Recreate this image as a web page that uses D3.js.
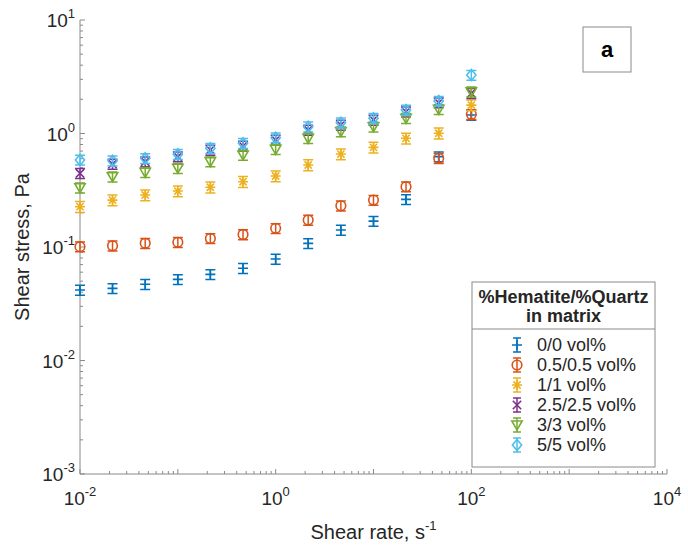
<!DOCTYPE html>
<html><head><meta charset="utf-8">
<script src="https://cdn.jsdelivr.net/npm/d3@7/dist/d3.min.js"></script>
<style>
body{margin:0;background:#fff}
text{font-family:"Liberation Sans",Arial,Helvetica,sans-serif}
</style>
</head><body>
<svg id="chart" width="688" height="548"></svg>
<script>
// ---- data ----
const shearRate = [0.01, 0.0215, 0.0464, 0.1, 0.215, 0.464, 1, 2.15, 4.64, 10, 21.5, 46.4, 100];
const seriesNames = ["0/0 vol%", "0.5/0.5 vol%", "1/1 vol%", "2.5/2.5 vol%", "3/3 vol%", "5/5 vol%"];
const stress_0_0   = [0.0418, 0.0432, 0.0469, 0.0519, 0.0574, 0.0649, 0.0783, 0.1077, 0.141, 0.169, 0.263, 0.625, 1.455];
const stress_05_05 = [0.1007, 0.1026, 0.1078, 0.110, 0.119, 0.129, 0.146, 0.173, 0.231, 0.259, 0.340, 0.605, 1.475];
const stress_1_1   = [0.2265, 0.259, 0.287, 0.311, 0.336, 0.376, 0.422, 0.528, 0.659, 0.755, 0.907, 1.005, 1.78];
const stress_25_25 = [0.446, 0.538, 0.565, 0.625, 0.716, 0.776, 0.877, 1.074, 1.189, 1.316, 1.556, 1.869, 2.26];
const stress_3_3   = [0.333, 0.416, 0.455, 0.494, 0.565, 0.647, 0.726, 0.907, 1.038, 1.148, 1.361, 1.633, 2.33];
const stress_5_5   = [0.585, 0.576, 0.604, 0.656, 0.741, 0.820, 0.919, 1.148, 1.245, 1.361, 1.61, 1.93, 3.27];
const relError     = [0.10, 0.10, 0.11, 0.10, 0.10, 0.10];   // relative error-bar half size per series
const colors  = ["#0072BD", "#D95319", "#EDB120", "#7E2F8E", "#77AC30", "#4DBEEE"];
const markers = ["plus", "circle", "asterisk", "times", "triangleDown", "diamond"];
const xTickValues = [1e-2, 1e0, 1e2, 1e4];
const xTickExp = ["-2", "0", "2", "4"];
const yTickValues = [1e-3, 1e-2, 1e-1, 1e0, 1e1];
const yTickExp = ["-3", "-2", "-1", "0", "1"];
const legendTitle = ["%Hematite/%Quartz", "in matrix"];
const panelLabel = "a";
const xLabel = "Shear rate, s";
const xLabelSup = "-1";
const yLabel = "Shear stress, Pa";

const seriesValues = [stress_0_0, stress_05_05, stress_1_1, stress_25_25, stress_3_3, stress_5_5];

// ---- layout ----
const L = 80, R = 667, T = 20, B = 474;
const axisColor = "#8a8a8a", textColor = "#262626";

const svg = d3.select("#chart");
const x = d3.scaleLog().domain([1e-2, 1e4]).range([L, R]);
const y = d3.scaleLog().domain([1e-3, 1e1]).range([B, T]);

// ---- marker drawing ----
function drawMarker(g, type, color) {
  const sw = 1.6;
  const p = d3.path();
  if (type === "plus") {
    p.moveTo(-5, 0); p.lineTo(5, 0); p.moveTo(0, -5); p.lineTo(0, 5);
  } else if (type === "circle") {
    g.append("circle").attr("r", 4.8).attr("stroke", color).attr("stroke-width", sw).attr("fill", "none");
    return;
  } else if (type === "asterisk") {
    p.moveTo(-5, 0); p.lineTo(5, 0); p.moveTo(0, -5); p.lineTo(0, 5);
    p.moveTo(-3.6, -3.6); p.lineTo(3.6, 3.6); p.moveTo(-3.6, 3.6); p.lineTo(3.6, -3.6);
  } else if (type === "times") {
    p.moveTo(-4.2, -4.2); p.lineTo(4.2, 4.2); p.moveTo(-4.2, 4.2); p.lineTo(4.2, -4.2);
  } else if (type === "triangleDown") {
    p.moveTo(-5.2, -4); p.lineTo(5.2, -4); p.lineTo(0, 5); p.closePath();
  } else if (type === "diamond") {
    p.moveTo(0, -5.5); p.lineTo(4.6, 0); p.lineTo(0, 5.5); p.lineTo(-4.6, 0); p.closePath();
  }
  g.append("path").attr("d", p.toString()).attr("stroke", color).attr("stroke-width", sw).attr("fill", "none");
}
function drawErrorBar(g, yTop, yBot, color, cap) {
  const p = d3.path();
  p.moveTo(0, yTop); p.lineTo(0, yBot);
  p.moveTo(-cap, yTop); p.lineTo(cap, yTop);
  p.moveTo(-cap, yBot); p.lineTo(cap, yBot);
  g.append("path").attr("d", p.toString()).attr("stroke", color).attr("stroke-width", 1.5).attr("fill", "none");
}

// ---- axes ----
const axes = svg.append("g");
axes.append("line").attr("x1", L).attr("x2", L).attr("y1", T).attr("y2", B).attr("stroke", axisColor).attr("stroke-width", 1);
axes.append("line").attr("x1", L).attr("x2", R).attr("y1", B).attr("y2", B).attr("stroke", axisColor).attr("stroke-width", 1);

x.ticks().forEach(v => {
  const isMajor = Math.abs(Math.log10(v) - Math.round(Math.log10(v))) < 1e-9;
  const len = isMajor ? 5 : 3;
  axes.append("line").attr("x1", x(v)).attr("x2", x(v)).attr("y1", B).attr("y2", B - len)
    .attr("stroke", axisColor).attr("stroke-width", 1);
});
y.ticks().forEach(v => {
  const isMajor = Math.abs(Math.log10(v) - Math.round(Math.log10(v))) < 1e-9;
  const len = isMajor ? 5 : 3;
  axes.append("line").attr("x1", L).attr("x2", L + len).attr("y1", y(v)).attr("y2", y(v))
    .attr("stroke", axisColor).attr("stroke-width", 1);
});

xTickValues.forEach((v, i) => {
  const t = axes.append("text").attr("x", x(v)).attr("y", B + 31).attr("text-anchor", "middle")
    .attr("font-size", 19).attr("fill", textColor);
  t.append("tspan").text("10");
  t.append("tspan").attr("dy", -9).attr("font-size", 13).text(xTickExp[i]);
});
yTickValues.forEach((v, i) => {
  const t = axes.append("text").attr("x", L - 5).attr("y", y(v) + 7).attr("text-anchor", "end")
    .attr("font-size", 19).attr("fill", textColor);
  t.append("tspan").text("10");
  t.append("tspan").attr("dy", -9).attr("font-size", 13).text(yTickExp[i]);
});

const xl = svg.append("text").attr("x", (L + R) / 2).attr("y", 539).attr("text-anchor", "middle")
  .attr("font-size", 20).attr("fill", textColor);
xl.append("tspan").text(xLabel);
xl.append("tspan").attr("dy", -9).attr("font-size", 13).text(xLabelSup);
svg.append("text").attr("transform", `translate(29,${(T + B) / 2}) rotate(-90)`).attr("text-anchor", "middle")
  .attr("font-size", 20).attr("fill", textColor).text(yLabel);

// ---- data marks ----
seriesValues.forEach((vals, si) => {
  const g = svg.append("g").attr("class", "series");
  vals.forEach((v, i) => {
    const pg = g.append("g").attr("transform", `translate(${x(shearRate[i])},${y(v)})`);
    const yTop = y(v * (1 + relError[si])) - y(v);
    const yBot = y(v * (1 - relError[si])) - y(v);
    drawErrorBar(pg, yTop, yBot, colors[si], 5);
    drawMarker(pg, markers[si], colors[si]);
  });
});

// ---- panel label ----
svg.append("rect").attr("x", 583).attr("y", 27).attr("width", 48).attr("height", 45)
  .attr("fill", "#fff").attr("stroke", axisColor).attr("stroke-width", 1);
svg.append("text").attr("x", 607).attr("y", 57).attr("text-anchor", "middle")
  .attr("font-size", 22).attr("font-weight", "bold").attr("fill", "#000").text(panelLabel);

// ---- legend ----
const lgX = 472, lgY = 282, lgW = 183, lgH = 185, sepY = 329;
const lg = svg.append("g");
lg.append("rect").attr("x", lgX).attr("y", lgY).attr("width", lgW).attr("height", lgH)
  .attr("fill", "#fff").attr("stroke", axisColor).attr("stroke-width", 1);
lg.append("line").attr("x1", lgX).attr("x2", lgX + lgW).attr("y1", sepY).attr("y2", sepY)
  .attr("stroke", axisColor).attr("stroke-width", 1);
legendTitle.forEach((s, i) => {
  lg.append("text").attr("x", lgX + lgW / 2).attr("y", 303 + i * 19).attr("text-anchor", "middle")
    .attr("font-size", 18).attr("font-weight", "bold").attr("fill", textColor).text(s);
});
seriesNames.forEach((name, i) => {
  const cy = 345 + i * 20;
  const eg = lg.append("g").attr("transform", `translate(517,${cy})`);
  drawErrorBar(eg, -7, 7, colors[i], 4);
  drawMarker(eg, markers[i], colors[i]);
  lg.append("text").attr("x", 537).attr("y", cy + 6).attr("font-size", 18).attr("fill", textColor).text(name);
});
</script>
</body></html>
